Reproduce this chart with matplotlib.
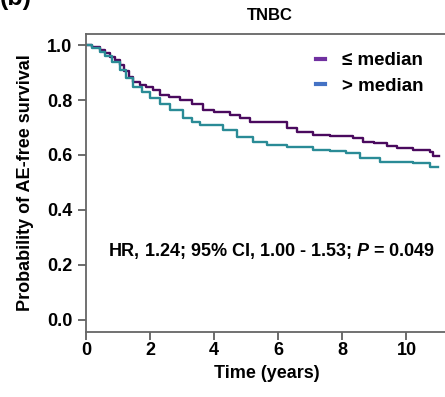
import matplotlib
matplotlib.use("Agg")
import matplotlib.pyplot as plt
from matplotlib.lines import Line2D

FONT = 'Liberation Sans'
plt.rcParams['font.family'] = [FONT, 'DejaVu Sans']
plt.rcParams['font.weight'] = 'bold'
plt.rcParams['mathtext.fontset'] = 'custom'
plt.rcParams['mathtext.it'] = FONT + ':italic:bold'
plt.rcParams['mathtext.rm'] = FONT + ':bold'
plt.rcParams['mathtext.bf'] = FONT + ':bold'

# Kaplan-Meier step data
low_time = [0.0, 0.2, 0.44, 0.6, 0.75, 0.9, 1.06, 1.2, 1.35, 1.48, 1.7, 1.89, 2.1, 2.31, 2.6, 2.93,
            3.3, 3.65, 4.0, 4.49, 4.8, 5.12, 5.95, 6.26, 6.6, 7.08, 7.6, 8.33, 8.65, 9.0, 9.4,
            9.69, 10.2, 10.73, 10.83, 11.02]
low_surv = [1.0, 0.993, 0.982, 0.97, 0.957, 0.945, 0.927, 0.905, 0.885, 0.867, 0.856, 0.848, 0.835,
            0.818, 0.81, 0.80, 0.785, 0.764, 0.755, 0.745, 0.733, 0.721, 0.721, 0.697, 0.685,
            0.673, 0.668, 0.662, 0.648, 0.642, 0.632, 0.624, 0.618, 0.612, 0.596, 0.596]

high_time = [0.0, 0.2, 0.44, 0.6, 0.8, 1.06, 1.25, 1.48, 1.75, 2.0, 2.3, 2.62, 3.04, 3.3, 3.56, 4.28,
             4.70, 5.22, 5.64, 6.26, 7.09, 7.6, 8.13, 8.55, 9.17, 10.2, 10.73, 11.0]
high_surv = [1.0, 0.99, 0.976, 0.96, 0.94, 0.909, 0.88, 0.848, 0.828, 0.806, 0.785, 0.764, 0.733,
             0.72, 0.709, 0.691, 0.667, 0.648, 0.636, 0.628, 0.62, 0.614, 0.606, 0.588, 0.576,
             0.572, 0.557, 0.557]

legend_labels = ['\u2264 median', '> median']
x_ticks = [0, 2, 4, 6, 8, 10]
y_ticks = [0.0, 0.2, 0.4, 0.6, 0.8, 1.0]

fig = plt.figure(figsize=(4.45, 3.97), dpi=100)
ax = fig.add_axes([0.193, 0.164, 0.814, 0.75])

ax.step(low_time, low_surv, where='post', color='#4a0a5e', lw=1.7)
ax.step(high_time, high_surv, where='post', color='#2a8b96', lw=1.7)

ax.set_xlim(0, 11.3)
ax.set_ylim(-0.044, 1.04)
ax.set_xticks(x_ticks)
ax.set_yticks(y_ticks)
ax.set_xticklabels([str(t) for t in x_ticks])
ax.set_yticklabels([f"{v:.1f}" for v in y_ticks])
ax.tick_params(axis='y', labelsize=13, color='#444444', width=1.1, length=5.5, pad=4.3)
ax.tick_params(axis='x', labelsize=13, color='#444444', width=1.1, length=6, pad=1.5)
for lab in ax.get_xticklabels() + ax.get_yticklabels():
    lab.set_fontweight('bold')
for s in ['left', 'bottom', 'top']:
    ax.spines[s].set_color('#666666')
    ax.spines[s].set_linewidth(1.3)
ax.spines['right'].set_visible(False)

ax.set_xlabel('Time (years)', fontsize=13, fontweight='bold', labelpad=4)
ax.set_ylabel('Probability of AE-free survival', fontsize=13, fontweight='bold', labelpad=9)

# Legend
handles = [Line2D([0], [0], color='#7030a0', lw=3),
           Line2D([0], [0], color='#4472c4', lw=3)]
ax.legend(handles, legend_labels, loc='upper left', bbox_to_anchor=(0.635, 0.94), frameon=False,
          prop={'weight': 'bold', 'size': 13.5}, handlelength=0.5, handletextpad=0.9,
          labelspacing=0.46, borderpad=0, borderaxespad=0)

ax.text(5.78, 0.233, 'HR, 1.24; 95% CI, 1.00 - 1.53; $P$ = 0.049', ha='center', va='baseline',
        fontsize=13, fontweight='bold')

fig.text(0.607, 0.9496, 'TNBC', ha='center', va='baseline', fontsize=12, fontweight='bold')
fig.text(0.0, 0.988, '(b)', ha='left', va='baseline', fontsize=18, fontweight='bold')

fig.savefig('out.png', dpi=100)
